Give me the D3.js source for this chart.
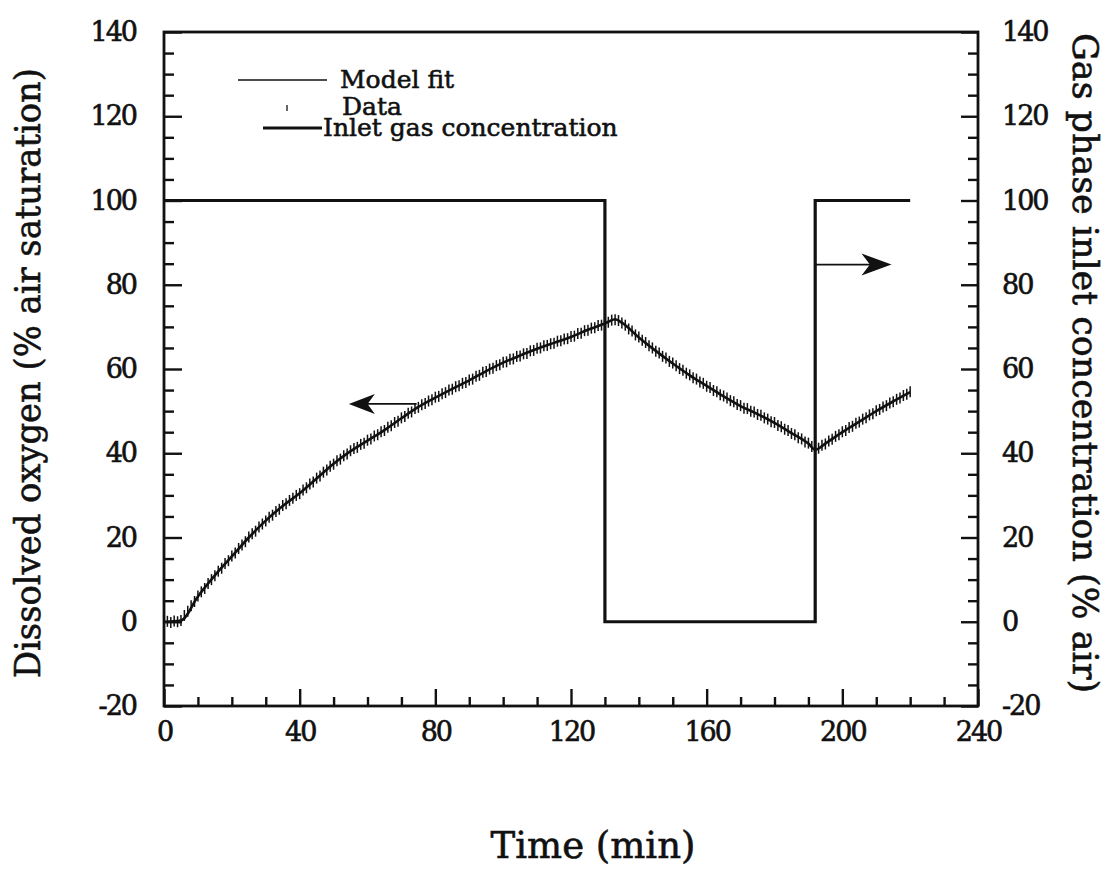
<!DOCTYPE html>
<html>
<head>
<meta charset="utf-8">
<script src="https://cdn.jsdelivr.net/npm/d3@7"></script>
<style>
  body { margin: 0; background: #fff; }
  svg { display: block; }
  text { font-family: "DejaVu Serif", serif; fill: #111; stroke: #111; stroke-width: 0.6px; }
</style>
</head>
<body>
<svg id="chart" width="1113" height="869"></svg>
<script>
// inlet gas step (% air)
const gasTime = [0, 130, 130, 192, 192, 220];
const gasConc = [100, 100, 0, 0, 100, 100];

// model fit (% air saturation)
const fitTime = [0, 5, 10, 15, 20, 25, 30, 35, 40, 45, 50, 55, 60, 65, 70, 75, 80, 85, 90, 95, 100,
  105, 110, 115, 120, 125, 130, 133, 135, 140, 145, 150, 155, 160, 165, 170, 175, 180, 185, 190,
  192, 195, 200, 205, 210, 215, 220];
const fitDO = [0, 0.3, 6, 11, 15.5, 20, 24, 27.5, 30.5, 34, 37.5, 40.5, 43, 45.5, 48.3, 51, 53.2,
  55.3, 57.3, 59.5, 61.5, 63.2, 64.8, 66.2, 67.6, 69.3, 70.8, 71.8, 71, 67.5, 64.3, 61.3, 58.5, 56,
  53.5, 51.2, 49.3, 47.2, 44.8, 42.3, 40.8, 42.3, 45, 47.5, 50, 52.3, 54.5];

// measured DO, one sample per minute from t = 0
const dataStep = 1;
const dataDO = [
  0, 0.1, -0.2, 0.2, 0, 0.3,
  1.5, 2.5, 3.8, 4.8, 6.1, 7.1, 7.9, 9.1, 10.0, 10.9,
  12.0, 12.7, 13.8, 14.5, 15.6, 16.3, 17.4, 18.2, 19.0, 20.1,
  20.9, 21.5, 22.5, 23.2, 23.9, 24.8, 25.3, 26.2, 26.7, 27.6,
  28.0, 28.8, 29.3, 30.0, 30.4, 31.3, 31.8, 32.7, 33.2, 34.1,
  34.6, 35.5, 36.0, 36.9, 37.4, 38.2, 38.6, 39.4, 39.8, 40.6,
  41.1, 41.4, 42.1, 42.4, 43.1, 43.4, 44.1, 44.4, 45.1, 45.4,
  46.2, 46.5, 47.3, 47.6, 48.4, 48.7, 49.5, 49.8, 50.6, 50.9,
  51.5, 51.8, 52.4, 52.7, 53.3, 53.5, 54.1, 54.4, 55.0, 55.2,
  55.8, 56.0, 56.6, 56.8, 57.4, 57.6, 58.3, 58.5, 59.2, 59.4,
  60.0, 60.2, 60.8, 61.0, 61.6, 61.7, 62.3, 62.4, 63.0, 63.1,
  63.6, 63.7, 64.3, 64.4, 64.9, 65.0, 65.5, 65.6, 66.0, 66.1,
  66.6, 66.7, 67.1, 67.2, 67.7, 67.8, 68.4, 68.5, 69.1, 69.2,
  69.7, 69.8, 70.3, 70.4, 70.9,
  71.1, 71.6, 71.7, 71.5, 70.9, 70.4, 69.5, 69.0, 68.1, 67.6,
  66.8, 66.3, 65.5, 65.0, 64.2, 63.8, 63.0, 62.6, 61.8, 61.4,
  60.8, 60.1, 59.7, 59.0, 58.6, 57.9, 57.6, 56.9, 56.6, 55.9,
  55.6, 54.9, 54.6, 53.9, 53.6, 53.1, 52.5, 52.2, 51.6, 51.3,
  50.7, 50.6, 50.0, 49.8, 49.2, 49.0, 48.4, 48.1, 47.5, 47.3,
  46.6, 46.3, 45.7, 45.4, 44.7, 44.4, 43.7, 43.4, 42.7, 42.4,
  41.6, 40.7,
  41.2, 41.9, 42.2, 42.9, 43.3, 44.0, 44.4, 45.1,
  45.4, 46.1, 46.4, 47.1, 47.4, 48.1, 48.4, 49.1, 49.4, 50.1,
  50.4, 51.0, 51.3, 51.9, 52.2, 52.8, 53.1, 53.7, 54.0, 54.6
];

const xMajor = [0, 40, 80, 120, 160, 200, 240];
const yMajor = [-20, 0, 20, 40, 60, 80, 100, 120, 140];

// arrow annotations: [tail time, tip time, value]
const arrowLeft = [74.5, 54.5, 51.7];
const arrowRight = [192, 214.5, 84.8];

const svg = d3.select("#chart");
const margin = {top: 32, right: 135, bottom: 163, left: 164};
const W = 1113, H = 869;

const x = d3.scaleLinear().domain([0, 240]).range([margin.left, W - margin.right]);
const y = d3.scaleLinear().domain([-20, 140]).range([H - margin.bottom, margin.top]);

// frame
svg.append("rect")
  .attr("x", x(0)).attr("y", y(140))
  .attr("width", x(240) - x(0)).attr("height", y(-20) - y(140))
  .attr("fill", "none").attr("stroke", "#111").attr("stroke-width", 2.8);

const minorX = d3.range(0, 241, 10).filter(d => d % 40 !== 0);
const minorY = d3.range(-20, 141, 5).filter(d => d % 20 !== 0);
const fmt = d => String(d);

function styleAxis(g) {
  g.select(".domain").remove();
  g.selectAll(".tick line").attr("stroke", "#111").attr("stroke-width", 2.4);
  g.selectAll("text")
    .style("font-family", "DejaVu Serif")
    .attr("font-size", 27)
    .attr("letter-spacing", -2)
    .attr("fill", "#111");
}

// bottom axis
svg.append("g").attr("transform", `translate(0,${y(-20)})`)
  .call(d3.axisBottom(x).tickValues(minorX).tickSizeInner(-9).tickSizeOuter(0).tickFormat(""))
  .call(styleAxis);
svg.append("g").attr("transform", `translate(0,${y(-20)})`)
  .call(d3.axisBottom(x).tickValues(xMajor).tickSizeInner(-17).tickSizeOuter(0).tickPadding(16).tickFormat(fmt))
  .call(styleAxis);

// left axis
svg.append("g").attr("transform", `translate(${x(0)},0)`)
  .call(d3.axisLeft(y).tickValues(minorY).tickSizeInner(-10).tickSizeOuter(0).tickFormat(""))
  .call(styleAxis);
svg.append("g").attr("transform", `translate(${x(0)},0)`)
  .call(d3.axisLeft(y).tickValues(yMajor).tickSizeInner(-18).tickSizeOuter(0).tickPadding(28).tickFormat(fmt))
  .call(styleAxis);

// right axis
svg.append("g").attr("transform", `translate(${x(240)},0)`)
  .call(d3.axisRight(y).tickValues(minorY).tickSizeInner(-10).tickSizeOuter(0).tickFormat(""))
  .call(styleAxis);
svg.append("g").attr("transform", `translate(${x(240)},0)`)
  .call(d3.axisRight(y).tickValues(yMajor).tickSizeInner(-17).tickSizeOuter(0).tickPadding(24).tickFormat(fmt))
  .call(styleAxis);

// inlet gas concentration
const gasLine = d3.line().x(d => x(d[0])).y(d => y(d[1]));
svg.append("path")
  .datum(gasTime.map((t, i) => [t, gasConc[i]]))
  .attr("d", gasLine)
  .attr("fill", "none").attr("stroke", "#111").attr("stroke-width", 3.2);

// model fit
const fitLine = d3.line().x(d => x(d[0])).y(d => y(d[1])).curve(d3.curveMonotoneX);
svg.append("path")
  .datum(fitTime.map((t, i) => [t, fitDO[i]]))
  .attr("d", fitLine)
  .attr("fill", "none").attr("stroke", "#111").attr("stroke-width", 2.6);

// data as short vertical bars
svg.append("g").selectAll("line")
  .data(dataDO)
  .join("line")
  .attr("x1", (d, i) => x(i * dataStep)).attr("x2", (d, i) => x(i * dataStep))
  .attr("y1", d => y(d) - 5.5).attr("y2", d => y(d) + 5.5)
  .attr("stroke", "#111").attr("stroke-width", 1.5);

// arrows
function arrow(a, headLen, headHalf) {
  const x0 = x(a[0]), x1 = x(a[1]), yy = y(a[2]);
  const dir = Math.sign(x1 - x0);
  svg.append("line")
    .attr("x1", x0).attr("x2", x1 - dir * headLen * 0.6).attr("y1", yy).attr("y2", yy)
    .attr("stroke", "#111").attr("stroke-width", 1.8);
  const back = x1 - dir * headLen;
  const notch = x1 - dir * headLen * 0.72;
  svg.append("path")
    .attr("d", `M${x1},${yy} L${back},${yy - headHalf} L${notch},${yy} L${back},${yy + headHalf} Z`)
    .attr("fill", "#111");
}
arrow(arrowLeft, 26, 10);
arrow(arrowRight, 30, 11);

// legend
const lg = svg.append("g");
lg.append("line").attr("x1", 238).attr("x2", 327).attr("y1", 80).attr("y2", 80)
  .attr("stroke", "#111").attr("stroke-width", 1.6);
lg.append("text").attr("x", 340).attr("y", 88).attr("font-size", 25).text("Model fit");
lg.append("line").attr("x1", 287).attr("x2", 287).attr("y1", 105).attr("y2", 111)
  .attr("stroke", "#111").attr("stroke-width", 1.3);
lg.append("text").attr("x", 342).attr("y", 115).attr("font-size", 25).text("Data");
lg.append("line").attr("x1", 263).attr("x2", 322).attr("y1", 128).attr("y2", 128)
  .attr("stroke", "#111").attr("stroke-width", 3.2);
lg.append("text").attr("x", 323).attr("y", 136).attr("font-size", 25).text("Inlet gas concentration");

// axis titles
const midY = (y(140) + y(-20)) / 2;
svg.append("text")
  .attr("transform", `translate(40,${midY + 4}) rotate(-90)`)
  .attr("text-anchor", "middle").attr("font-size", 36)
  .attr("textLength", 610).attr("lengthAdjust", "spacingAndGlyphs")
  .text("Dissolved oxygen (% air saturation)");
svg.append("text")
  .attr("transform", `translate(1073,${midY - 6}) rotate(90)`)
  .attr("text-anchor", "middle").attr("font-size", 36)
  .attr("textLength", 660).attr("lengthAdjust", "spacingAndGlyphs")
  .text("Gas phase inlet concentration (% air)");
svg.append("text")
  .attr("x", 593).attr("y", 858)
  .attr("text-anchor", "middle").attr("font-size", 37)
  .text("Time (min)");
</script>
</body>
</html>
